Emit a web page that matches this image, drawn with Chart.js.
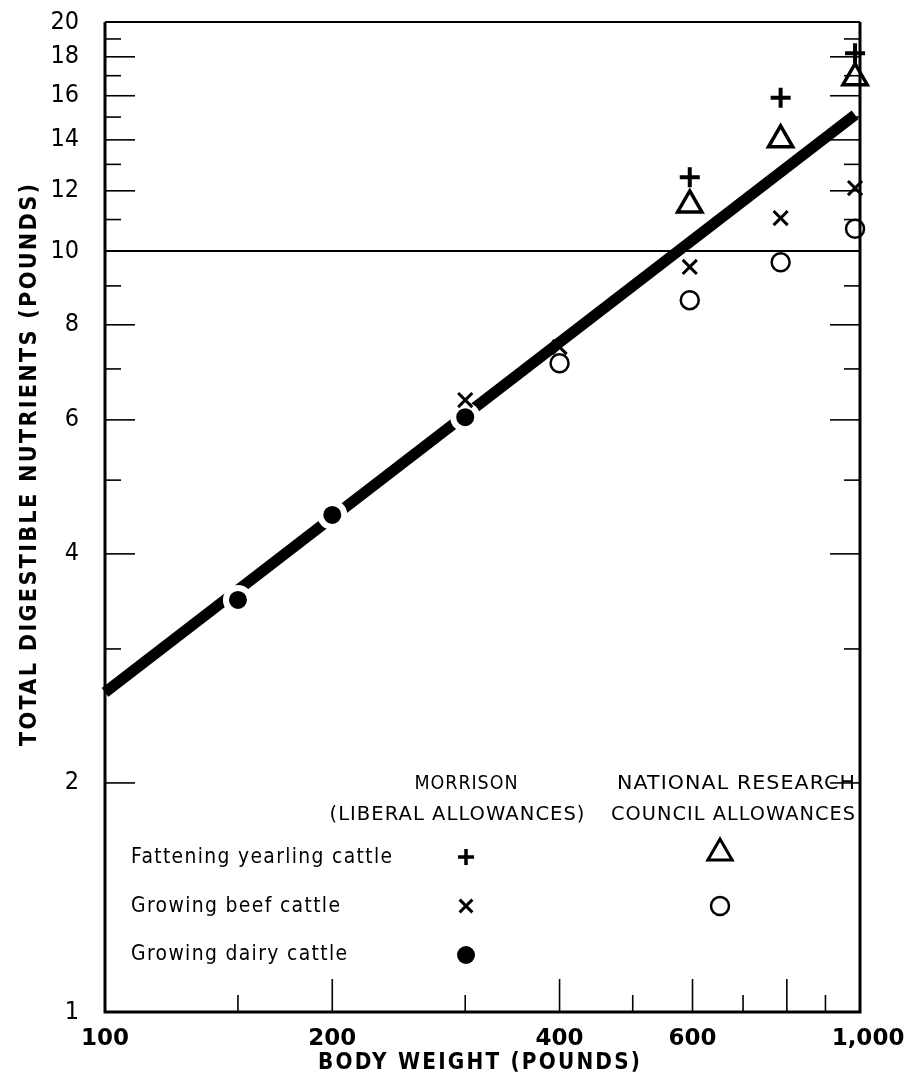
<!DOCTYPE html>
<html><head><meta charset="utf-8">
<script src="https://cdn.jsdelivr.net/npm/chart.js@4.4.1/dist/chart.umd.min.js"></script>
<style>html,body{margin:0;padding:0;background:#fff;}#wrap{width:909px;height:1080px;}</style>
</head><body><div id="wrap"><canvas id="c" width="909" height="1080"></canvas></div>
<script>
// ---- data ----
const xTickValues = [100, 200, 400, 600, 1000];
const xTickLabels = ['100', '200', '400', '600', '1,000'];
const yTickValues = [1, 2, 4, 6, 8, 10, 12, 14, 16, 18, 20];
const xLongTicks = [200, 400, 600, 800];
const xShortTicks = [150, 300, 500, 700, 900];
const yLongTicks = [2, 4, 6, 8, 12, 14, 16, 18];
const yShortTicks = [3, 5, 7, 9, 11, 13, 15, 17, 19];

const trendX = [100, 985];
const trendY = [2.63, 15.1];
const dairyX = [150, 200, 300];
const dairyY = [3.48, 4.50, 6.05];
const beefMorrisonX = [300, 400, 595, 785, 985];
const beefMorrisonY = [6.37, 7.48, 9.53, 11.05, 12.1];
const beefNrcX = [400, 595, 785, 985];
const beefNrcY = [7.12, 8.62, 9.67, 10.7];
const fatMorrisonX = [595, 785, 985];
const fatMorrisonY = [12.5, 15.9, 18.2];
const fatNrcX = [595, 785, 985];
const fatNrcY = [11.5, 14.0, 16.9];

const xTitle = 'BODY WEIGHT (POUNDS)';
const yTitle = 'TOTAL DIGESTIBLE NUTRIENTS (POUNDS)';
const legendHeaders = ['MORRISON', '(LIBERAL ALLOWANCES)', 'NATIONAL RESEARCH', 'COUNCIL ALLOWANCES'];
const legendRows = ['Fattening yearling cattle', 'Growing beef cattle', 'Growing dairy cattle'];

const pts = (xs, ys) => xs.map((x, i) => ({x, y: ys[i]}));
const SANS = '"DejaVu Sans", sans-serif';

function fitText(ctx, text, x, y, font, spacing, target, align) {
  ctx.save();
  ctx.font = font;
  ctx.letterSpacing = spacing + 'px';
  const w = ctx.measureText(text).width - spacing;
  const sx = target / w;
  let left = x;
  if (align === 'center') left = x - target / 2;
  else if (align === 'right') left = x - target;
  ctx.translate(left, y);
  ctx.scale(sx, 1);
  ctx.textAlign = 'left';
  ctx.textBaseline = 'middle';
  ctx.fillText(text, 0, 0);
  ctx.restore();
}

const framePlugin = {
  id: 'frame',
  beforeDatasetsDraw(chart) {
    const {ctx, chartArea: a, scales: {x, y}} = chart;
    ctx.save();
    ctx.strokeStyle = '#000';
    ctx.lineWidth = 2;
    const y10 = y.getPixelForValue(10);
    ctx.beginPath(); ctx.moveTo(a.left, y10); ctx.lineTo(a.right, y10); ctx.stroke();
    ctx.lineWidth = 1.6;
    yLongTicks.forEach(v => {
      const p = y.getPixelForValue(v);
      ctx.beginPath(); ctx.moveTo(a.left, p); ctx.lineTo(a.left + 30, p); ctx.stroke();
      ctx.beginPath(); ctx.moveTo(a.right, p); ctx.lineTo(a.right - 30, p); ctx.stroke();
    });
    yShortTicks.forEach(v => {
      const p = y.getPixelForValue(v);
      ctx.beginPath(); ctx.moveTo(a.left, p); ctx.lineTo(a.left + 16, p); ctx.stroke();
      ctx.beginPath(); ctx.moveTo(a.right, p); ctx.lineTo(a.right - 16, p); ctx.stroke();
    });
    xLongTicks.forEach(v => {
      const p = x.getPixelForValue(v);
      ctx.beginPath(); ctx.moveTo(p, a.bottom); ctx.lineTo(p, a.bottom - 33); ctx.stroke();
    });
    xShortTicks.forEach(v => {
      const p = x.getPixelForValue(v);
      ctx.beginPath(); ctx.moveTo(p, a.bottom); ctx.lineTo(p, a.bottom - 17); ctx.stroke();
    });
    ctx.lineWidth = 3;
    ctx.beginPath();
    ctx.moveTo(a.left, a.top); ctx.lineTo(a.left, a.bottom); ctx.lineTo(a.right, a.bottom); ctx.lineTo(a.right, a.top);
    ctx.stroke();
    ctx.lineWidth = 2;
    ctx.beginPath(); ctx.moveTo(a.left, a.top); ctx.lineTo(a.right, a.top); ctx.stroke();
    ctx.restore();
  },
  afterDraw(chart) {
    const {ctx} = chart;
    ctx.save();
    ctx.fillStyle = '#000';
    fitText(ctx, xTitle, 479, 1063, 'bold 23px ' + SANS, 2.5, 322, 'center');
    ctx.save();
    ctx.translate(30, 465);
    ctx.rotate(-Math.PI / 2);
    fitText(ctx, yTitle, 0, 0, 'bold 23px ' + SANS, 2.5, 562, 'center');
    ctx.restore();
    const hf = '19px ' + SANS;
    fitText(ctx, legendHeaders[0], 466, 784, hf, 1, 103, 'center');
    fitText(ctx, legendHeaders[1], 457, 815, hf, 1, 255, 'center');
    fitText(ctx, legendHeaders[2], 736, 784, hf, 1, 238, 'center');
    fitText(ctx, legendHeaders[3], 733, 815, hf, 1, 244, 'center');
    const rf = '21px ' + SANS;
    fitText(ctx, legendRows[0], 131, 858, rf, 1.5, 261, 'left');
    fitText(ctx, legendRows[1], 131, 907, rf, 1.5, 209, 'left');
    fitText(ctx, legendRows[2], 131, 955, rf, 1.5, 216, 'left');
    const H = Chart.helpers;
    ctx.strokeStyle = '#000'; ctx.fillStyle = '#000';
    ctx.lineWidth = 3.5;
    H.drawPoint(ctx, {pointStyle: 'cross', radius: 8, borderWidth: 3.5, rotation: 0}, 466, 857);
    ctx.lineWidth = 3;
    H.drawPoint(ctx, {pointStyle: 'crossRot', radius: 9, borderWidth: 3, rotation: 0}, 466, 906);
    H.drawPoint(ctx, {pointStyle: 'circle', radius: 9, borderWidth: 0, rotation: 0}, 466, 955);
    ctx.fillStyle = 'rgba(0,0,0,0)';
    ctx.lineWidth = 3;
    H.drawPoint(ctx, {pointStyle: 'triangle', radius: 14, borderWidth: 3, rotation: 0}, 720, 853);
    ctx.lineWidth = 2.5;
    H.drawPoint(ctx, {pointStyle: 'circle', radius: 9, borderWidth: 2.5, rotation: 0}, 720, 906);
    ctx.restore();
  }
};

new Chart(document.getElementById('c'), {
  type: 'scatter',
  data: {
    datasets: [
      {label: 'trend', type: 'line', data: pts(trendX, trendY), borderColor: '#000', borderWidth: 11,
       borderCapStyle: 'butt', pointRadius: 0, fill: false, order: 10, clip: false},
      {label: 'Growing dairy cattle (Morrison)', data: pts(dairyX, dairyY), pointStyle: 'circle',
       pointRadius: 12, pointBackgroundColor: '#000', pointBorderColor: '#fff', pointBorderWidth: 6, order: 5, clip: false},
      {label: 'Growing beef cattle (Morrison)', data: pts(beefMorrisonX, beefMorrisonY), pointStyle: 'crossRot',
       pointRadius: 10, pointBorderColor: '#000', pointBorderWidth: 3, order: 1, clip: false},
      {label: 'Growing beef cattle (NRC)', data: pts(beefNrcX, beefNrcY), pointStyle: 'circle',
       pointRadius: 9, pointBackgroundColor: 'rgba(0,0,0,0)', pointBorderColor: '#000', pointBorderWidth: 2.5, order: 1, clip: false},
      {label: 'Fattening yearling cattle (Morrison)', data: pts(fatMorrisonX, fatMorrisonY), pointStyle: 'cross',
       pointRadius: 10, pointBorderColor: '#000', pointBorderWidth: 4, order: 1, clip: false},
      {label: 'Fattening yearling cattle (NRC)', data: pts(fatNrcX, fatNrcY), pointStyle: 'triangle',
       pointRadius: 14, pointBackgroundColor: 'rgba(0,0,0,0)', pointBorderColor: '#000', pointBorderWidth: 3.5, order: 1, clip: false}
    ]
  },
  options: {
    responsive: false,
    animation: false,
    events: [],
    layout: {padding: {left: 0, right: 49, top: 22, bottom: 0}},
    plugins: {legend: {display: false}, tooltip: {enabled: false}},
    scales: {
      x: {
        type: 'logarithmic', min: 100, max: 1000,
        afterBuildTicks: s => { s.ticks = xTickValues.map(v => ({value: v})); },
        afterFit: s => { s.height = 68; s.paddingLeft = 0; s.paddingRight = 0; },
        grid: {display: false, drawTicks: false},
        border: {display: false},
        ticks: {
          color: '#000', padding: 13, maxRotation: 0, autoSkip: false,
          font: {family: SANS, size: 23, weight: 'bold'},
          callback: (v) => {
            const i = xTickValues.indexOf(v);
            if (i < 0) return '';
            return i === xTickValues.length - 1 ? '  ' + xTickLabels[i] : xTickLabels[i];
          }
        }
      },
      y: {
        type: 'logarithmic', min: 1, max: 20,
        afterBuildTicks: s => { s.ticks = yTickValues.map(v => ({value: v})); },
        afterFit: s => { s.width = 105; s.paddingTop = 0; s.paddingBottom = 0; },
        grid: {display: false, drawTicks: false},
        border: {display: false},
        ticks: {
          color: '#000', padding: 26, autoSkip: false,
          font: {family: '"DejaVu Sans Condensed", "DejaVu Sans", sans-serif', size: 25},
          callback: (v) => String(v)
        }
      }
    }
  },
  plugins: [framePlugin]
});
</script>
</body></html>
